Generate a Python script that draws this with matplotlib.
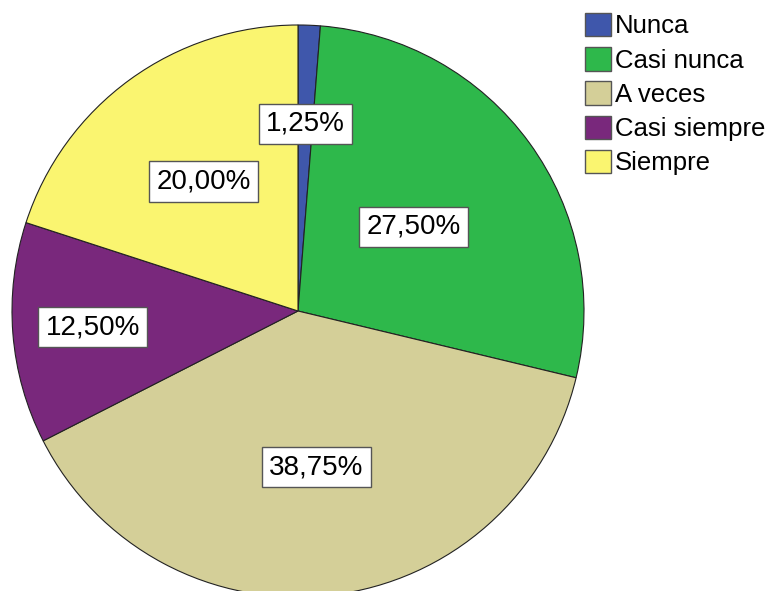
import numpy as np
import matplotlib
matplotlib.use('Agg')
import matplotlib.pyplot as plt
from matplotlib.patches import Patch

plt.rcParams['font.family'] = ['Liberation Sans', 'DejaVu Sans']

# Data
categories = ['Nunca', 'Casi nunca', 'A veces', 'Casi siempre', 'Siempre']
percentages = [1.25, 27.50, 38.75, 12.50, 20.00]
colors = ['#3F57AB', '#2EB84B', '#D4CF98', '#79287C', '#FAF570']

# Label distance from centre (fraction of radius) per slice
label_radius = [0.655, 0.50, 0.55, 0.72, 0.56]

W, H = 769, 591
R = 286.0
cx, cy = 298.0, 311.0

fig = plt.figure(figsize=(W / 100, H / 100), dpi=100)
ax = fig.add_axes([0, 0, 1, 1])

wedges, _ = ax.pie(percentages, colors=colors, startangle=90, counterclock=False,
                   radius=1.0, center=(0, 0), frame=True,
                   wedgeprops=dict(edgecolor='#222222', linewidth=0.8))
# map data units to pixels: 1 unit = R pixels, pie centre at (cx, cy)
ax.set_xlim(-cx / R, (W - cx) / R)
ax.set_ylim((cy - H) / R, cy / R)
ax.set_aspect('auto')
ax.axis('off')

for w, pct, r in zip(wedges, percentages, label_radius):
    mid = np.deg2rad((w.theta1 + w.theta2) / 2)
    x, y = r * np.cos(mid), r * np.sin(mid)
    txt = f'{pct:.2f}%'.replace('.', ',')
    ax.text(x, y, txt, ha='center', va='center', fontsize=20,
            bbox=dict(boxstyle='square,pad=0.26', facecolor='white',
                      edgecolor='#555555', linewidth=1.0))

handles = [Patch(facecolor=c, edgecolor='#555555', linewidth=1.0) for c in colors]
fig.legend(handles, categories, loc='upper left', bbox_to_anchor=(585 / W, 1 - 13 / H),
           frameon=False, fontsize=18.5, handlelength=1.02, handleheight=1.02,
           handletextpad=0.16, labelspacing=0.34, borderaxespad=0, borderpad=0)

fig.savefig('out.png', dpi=100)
